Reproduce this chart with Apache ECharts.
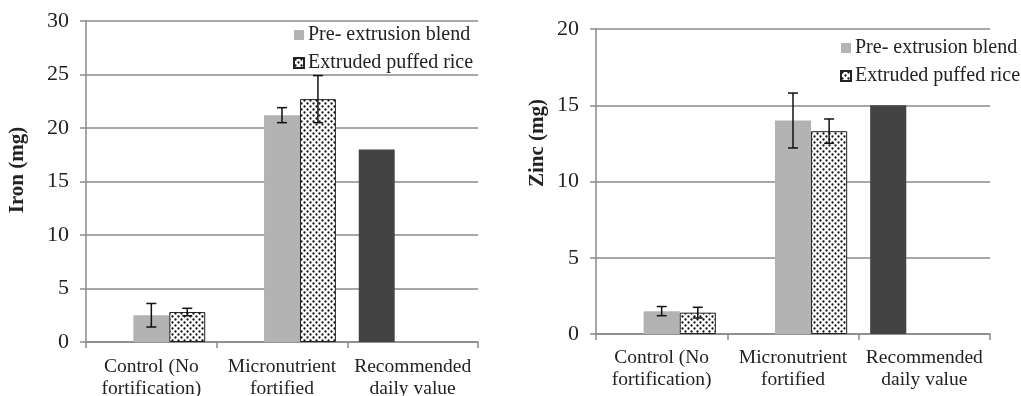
<!DOCTYPE html>
<html>
<head>
<meta charset="utf-8">
<script src="https://cdn.jsdelivr.net/npm/echarts@6/dist/echarts.min.js"></script>
<style>
  html, body { margin: 0; padding: 0; background: #fff; }
  #chart { width: 1021px; height: 396px; }
</style>
</head>
<body>
<div id="chart"></div>
<script>
const categories = ["Control (No\nfortification)", "Micronutrient\nfortified", "Recommended\ndaily value"];
const seriesNames = ["Pre- extrusion blend", "Extruded puffed rice"];

// iron (mg)
const ironPre = [2.5, 21.2, null];
const ironPreErr = [1.1, 0.7, null];
const ironExt = [2.8, 22.7, null];
const ironExtErr = [0.35, 2.2, null];
const ironRdv = [null, null, 18];
const ironTicks = { max: 30, interval: 5 };

// zinc (mg)
const zincPre = [1.5, 14.0, null];
const zincPreErr = [0.3, 1.8, null];
const zincExt = [1.4, 13.3, null];
const zincExtErr = [0.35, 0.8, null];
const zincRdv = [null, null, 15];
const zincTicks = { max: 20, interval: 5 };

const font = "'Liberation Serif', 'Times New Roman', serif";
const gridGrey = "#8a8a8a";
const catGap = 0.175;

// dotted fill for the extruded bars
const dots = document.createElement("canvas");
dots.width = 6;
dots.height = 6;
const dctx = dots.getContext("2d");
dctx.fillStyle = "#fff";
dctx.fillRect(0, 0, 6, 6);
dctx.fillStyle = "#111";
[[1.5, 1.5], [4.5, 4.5]].forEach(p => {
  dctx.beginPath();
  dctx.arc(p[0], p[1], 1.15, 0, Math.PI * 2);
  dctx.fill();
});
const dotPattern = { image: dots, repeat: "repeat" };

const errData = (vals, errs) =>
  vals.map((v, i) => (v == null ? null : [i, v, errs[i]])).filter(d => d);

// slot: 0 = pre (center of the category), 1 = extruded (one bar to the right)
const errRender = slot => (params, api) => {
  const x = api.value(0), v = api.value(1), e = api.value(2);
  const bw = (api.size([1, 0])[0] * (1 - catGap)) / 3;
  const cx = api.coord([x, v])[0] + slot * bw;
  const top = api.coord([x, v + e])[1];
  const bot = api.coord([x, v - e])[1];
  const st = { stroke: "#111", lineWidth: 1.5 };
  return {
    type: "group",
    children: [
      { type: "line", shape: { x1: cx, y1: top, x2: cx, y2: bot }, style: st },
      { type: "line", shape: { x1: cx - 5, y1: top, x2: cx + 5, y2: top }, style: st },
      { type: "line", shape: { x1: cx - 5, y1: bot, x2: cx + 5, y2: bot }, style: st },
    ],
  };
};

const makeX = (idx, margin) => ({
  type: "category",
  gridIndex: idx,
  data: categories,
  axisLine: { lineStyle: { color: gridGrey, width: 1.5 } },
  axisTick: { show: true, length: 6, lineStyle: { color: gridGrey, width: 1.5 } },
  axisLabel: { color: "#222", fontFamily: font, fontSize: 19.5, lineHeight: 22, margin: margin, interval: 0 },
});

const makeY = (idx, t) => ({
  type: "value",
  gridIndex: idx,
  min: 0,
  max: t.max,
  interval: t.interval,
  axisLine: { show: true, lineStyle: { color: gridGrey, width: 1.5 } },
  axisTick: { show: true, length: 6, lineStyle: { color: gridGrey, width: 1.5 } },
  axisLabel: { color: "#222", fontFamily: font, fontSize: 22, margin: 17 },
  splitLine: { lineStyle: { color: gridGrey, width: 1.5 } },
});

const barSeries = (idx, rdv, pre, ext) => [
  {
    name: "rdv",
    type: "bar",
    xAxisIndex: idx,
    yAxisIndex: idx,
    data: rdv,
    barGap: "0%",
    barCategoryGap: catGap * 100 + "%",
    itemStyle: { color: "#434343" },
  },
  {
    name: seriesNames[0],
    type: "bar",
    xAxisIndex: idx,
    yAxisIndex: idx,
    data: pre,
    barGap: "0%",
    barCategoryGap: catGap * 100 + "%",
    itemStyle: { color: "#b3b3b3" },
  },
  {
    name: seriesNames[1],
    type: "bar",
    xAxisIndex: idx,
    yAxisIndex: idx,
    data: ext,
    barGap: "0%",
    barCategoryGap: catGap * 100 + "%",
    itemStyle: { color: dotPattern, borderColor: "#222", borderWidth: 1 },
  },
];

const errSeries = (idx, pre, preErr, ext, extErr) => [
  {
    name: "errPre" + idx,
    type: "custom",
    xAxisIndex: idx,
    yAxisIndex: idx,
    renderItem: errRender(0),
    data: errData(pre, preErr),
    z: 10,
  },
  {
    name: "errExt" + idx,
    type: "custom",
    xAxisIndex: idx,
    yAxisIndex: idx,
    renderItem: errRender(1),
    data: errData(ext, extErr),
    z: 10,
  },
];

const legendBase = {
  data: seriesNames,
  orient: "vertical",
  icon: "rect",
  itemWidth: 10,
  itemHeight: 10,
  itemGap: 8,
  padding: 0,
  selectedMode: false,
  textStyle: { color: "#222", fontFamily: font, fontSize: 20, padding: [0, 0, 0, -1] },
};

const chart = echarts.init(document.getElementById("chart"), null, { renderer: "canvas" });

const option = {
  animation: false,
  backgroundColor: "#fff",
  grid: [
    { left: 86, top: 21, width: 392, height: 321, outerBoundsMode: "none", containLabel: false },
    { left: 596, top: 29, width: 394, height: 305, outerBoundsMode: "none", containLabel: false },
  ],
  legend: [
    Object.assign({}, legendBase, { left: 293, top: 25 }),
    Object.assign({}, legendBase, { left: 840, top: 38 }),
  ],
  graphic: [
    {
      type: "text",
      x: 18,
      y: 170,
      rotation: Math.PI / 2,
      style: { text: "Iron (mg)", font: "bold 21px " + font, fill: "#222", align: "center", verticalAlign: "middle" },
    },
    {
      type: "text",
      x: 538,
      y: 143,
      rotation: Math.PI / 2,
      style: { text: "Zinc (mg)", font: "bold 21px " + font, fill: "#222", align: "center", verticalAlign: "middle" },
    },
  ],
  xAxis: [makeX(0, 14), makeX(1, 13)],
  yAxis: [makeY(0, ironTicks), makeY(1, zincTicks)],
  series: [
    ...barSeries(0, ironRdv, ironPre, ironExt),
    ...barSeries(1, zincRdv, zincPre, zincExt),
    ...errSeries(0, ironPre, ironPreErr, ironExt, ironExtErr),
    ...errSeries(1, zincPre, zincPreErr, zincExt, zincExtErr),
  ],
};

chart.setOption(option);
</script>
</body>
</html>
